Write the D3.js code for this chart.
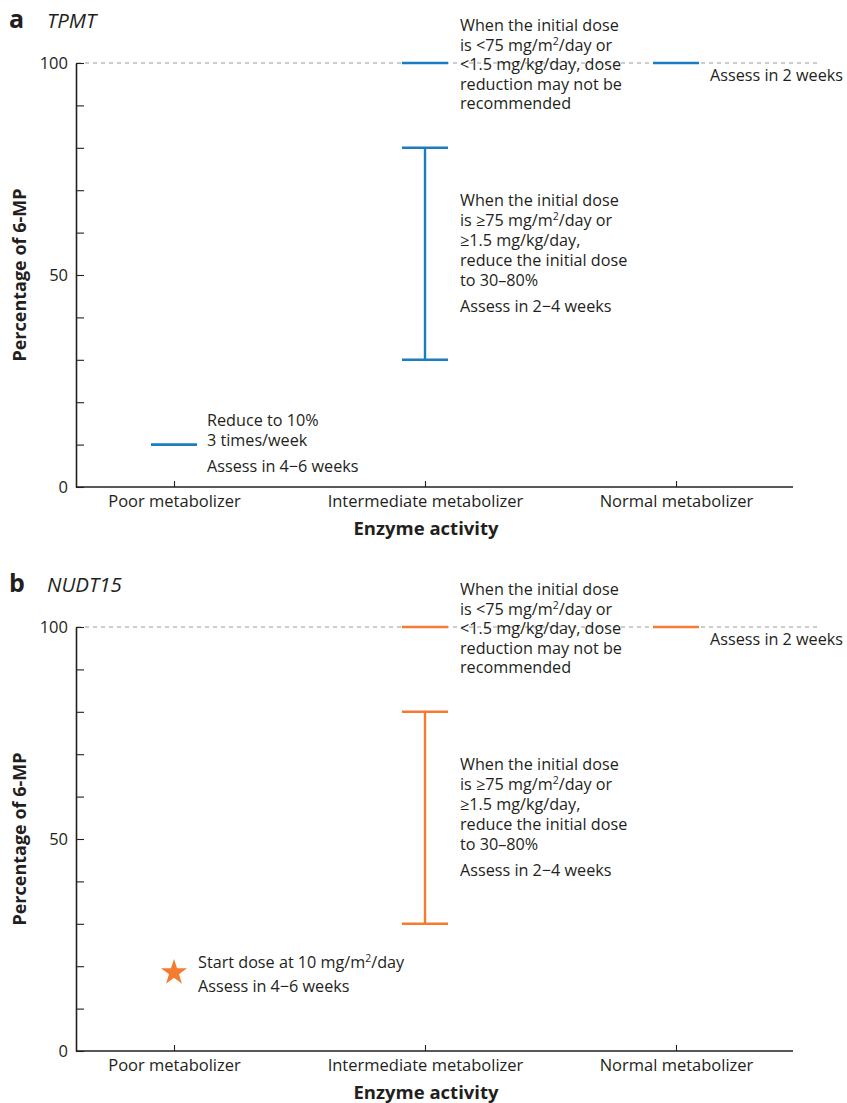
<!DOCTYPE html>
<html>
<head>
<meta charset="utf-8">
<script src="https://cdn.jsdelivr.net/npm/d3@7"></script>
<style>
  body { margin: 0; background: #fff; }
  svg text { font-family: "Open Sans", "Noto Sans", sans-serif; fill: #231f20; }
</style>
</head>
<body>
<div id="chart-area"></div>
<script>
// Data
const categories = ["Poor metabolizer", "Intermediate metabolizer", "Normal metabolizer"];
const yTickValues = [0, 10, 20, 30, 40, 50, 60, 70, 80, 90, 100];
const yTickLabels = [0, 50, 100];

// TPMT: single dose levels + a dose range
const tpmtLevels = [
    { cat: "Poor metabolizer", value: 10 },
    { cat: "Intermediate metabolizer", value: 100 },
    { cat: "Normal metabolizer", value: 100 }
];
const tpmtRanges = [{ cat: "Intermediate metabolizer", low: 30, high: 80 }];
const tpmtStars = [];

// NUDT15
const nudt15Levels = [
    { cat: "Intermediate metabolizer", value: 100 },
    { cat: "Normal metabolizer", value: 100 }
];
const nudt15Ranges = [{ cat: "Intermediate metabolizer", low: 30, high: 80 }];
const nudt15Stars = [{ cat: "Poor metabolizer", value: 18.5 }];

// Annotation texts ("^2" = superscript 2)
const noteLow = ["When the initial dose", "is <75 mg/m^2/day or", "<1.5 mg/kg/day, dose", "reduction may not be", "recommended"];
const noteNormal = ["Assess in 2 weeks"];
const noteHigh = ["When the initial dose", "is \u226575 mg/m^2/day or", "\u22651.5 mg/kg/day,", "reduce the initial dose", "to 30\u201380%"];
const noteHighAssess = ["Assess in 2\u22124 weeks"];
const tpmtPoorNote = ["Reduce to 10%", "3 times/week"];
const tpmtPoorAssess = ["Assess in 4\u22126 weeks"];
const nudt15PoorNote = ["Start dose at 10 mg/m^2/day", "Assess in 4\u22126 weeks"];

const panels = [
    { letter: "a", gene: "TPMT", color: "#1a7dc1", levels: tpmtLevels, ranges: tpmtRanges, stars: tpmtStars,
      poorNote: tpmtPoorNote, poorAssess: tpmtPoorAssess },
    { letter: "b", gene: "NUDT15", color: "#f47b2f", levels: nudt15Levels, ranges: nudt15Ranges, stars: nudt15Stars,
      poorNote: nudt15PoorNote, poorAssess: [] }
];

/* SVG */
const W = 847, H = 1103;
const margin = { left: 76, right: 54, top: 63 };
const width = W - margin.left - margin.right;   // 717
const height = 424;
const panelStep = 564;

const svg = d3.select("#chart-area")
    .append("svg")
    .attr("width", W)
    .attr("height", H);

const x = d3.scalePoint()
    .domain(categories)
    .range([98, 600]);

const y = d3.scaleLinear()
    .domain([0, 100])
    .range([height, 0]);

const FS = 16.2;

// one text block, one row per line; rows from `gapAt` on get pushed down by `gap`
function writeLines(g, lines, x0, y0, step, gapAt = -1, gap = 0) {
    const t = g.append("text")
        .attr("x", x0)
        .attr("y", y0)
        .style("font-size", FS + "px");
    lines.forEach((line, i) => {
        const row = t.append("tspan")
            .attr("x", x0)
            .attr("y", y0 + i * step + (gapAt >= 0 && i >= gapAt ? gap : 0));
        const parts = line.split("^2");
        parts.forEach((p, j) => {
            row.append("tspan").text(p);
            if (j < parts.length - 1) {
                row.append("tspan").text("2")
                    .attr("baseline-shift", "6")
                    .style("font-size", "10.5px");
            }
        });
    });
}

panels.forEach((p, pi) => {
    const pg = svg.append("g").attr("transform", `translate(0, ${pi * panelStep})`);

    /* Title */
    pg.append("text")
        .attr("x", 9).attr("y", 28)
        .style("font-size", "25px").style("font-weight", "bold")
        .text(p.letter);
    pg.append("text")
        .attr("x", 47).attr("y", 28)
        .style("font-size", "20.5px").style("font-style", "italic")
        .text(p.gene);

    const g = pg.append("g")
        .attr("transform", `translate(${margin.left}, ${margin.top})`);

    /* Dashed 100% line */
    g.append("line")
        .attr("x1", 1).attr("x2", 742)
        .attr("y1", y(100)).attr("y2", y(100))
        .attr("stroke", "#9a9a9a")
        .attr("stroke-width", 1)
        .attr("stroke-dasharray", "4,4");

    /* Y axis */
    const yAxis = g.append("g")
        .call(d3.axisLeft(y)
            .tickValues(yTickValues)
            .tickSize(-8)
            .tickSizeOuter(0)
            .tickPadding(8)
            .tickFormat(d => yTickLabels.includes(d) ? d : ""));
    yAxis.selectAll("line").attr("stroke", "#231f20").attr("stroke-width", 1.1);
    yAxis.select(".domain").attr("stroke", "#231f20").attr("stroke-width", 1.6);
    yAxis.selectAll("text")
        .style("font-family", '"Open Sans", sans-serif')
        .style("font-size", "16.5px")
        .attr("fill", "#231f20");

    /* X axis */
    const xAxis = g.append("g")
        .attr("transform", `translate(0, ${height})`)
        .call(d3.axisBottom(x).tickSize(-6).tickSizeOuter(0).tickPadding(8));
    xAxis.select(".domain").remove();
    xAxis.append("line")
        .attr("x1", 0).attr("x2", width)
        .attr("stroke", "#231f20").attr("stroke-width", 1.6);
    xAxis.selectAll(".tick line").attr("stroke", "#231f20").attr("stroke-width", 1.1);
    xAxis.selectAll(".tick text")
        .style("font-family", '"Open Sans", sans-serif')
        .style("font-size", "16.5px")
        .attr("fill", "#231f20");

    g.append("text")
        .attr("x", 350).attr("y", height + 48)
        .attr("text-anchor", "middle")
        .style("font-size", "18.5px").style("font-weight", "bold")
        .text("Enzyme activity");

    g.append("text")
        .attr("transform", `translate(-50, ${height / 2}) rotate(-90)`)
        .attr("text-anchor", "middle")
        .style("font-size", "18px").style("font-weight", "bold")
        .text("Percentage of 6-MP");

    /* Level marks */
    const half = 23;
    g.selectAll(".level")
        .data(p.levels)
        .join("line")
        .attr("class", "level")
        .attr("x1", d => x(d.cat) - half)
        .attr("x2", d => x(d.cat) + half)
        .attr("y1", d => y(d.value))
        .attr("y2", d => y(d.value))
        .attr("stroke", p.color)
        .attr("stroke-width", 2.6);

    /* Range (error bar) */
    p.ranges.forEach(r => {
        const cx = x(r.cat);
        g.append("line")
            .attr("x1", cx).attr("x2", cx)
            .attr("y1", y(r.high)).attr("y2", y(r.low))
            .attr("stroke", p.color).attr("stroke-width", 2.4);
        [r.low, r.high].forEach(v => {
            g.append("line")
                .attr("x1", cx - half).attr("x2", cx + half)
                .attr("y1", y(v)).attr("y2", y(v))
                .attr("stroke", p.color).attr("stroke-width", 2.6);
        });
        writeLines(g, noteHigh.concat(noteHighAssess), cx + 35, y(r.high) + 58, 20, noteHigh.length, 6);
    });

    /* Stars */
    g.selectAll(".star")
        .data(p.stars)
        .join("path")
        .attr("class", "star")
        .attr("d", d3.symbol(d3.symbolStar).size(210))
        .attr("transform", d => `translate(${x(d.cat)}, ${y(d.value)})`)
        .attr("fill", p.color);

    /* Notes */
    const xi = x("Intermediate metabolizer");
    const xn = x("Normal metabolizer");
    const xp = x("Poor metabolizer");
    writeLines(g, noteLow, xi + 35, y(100) - 32, 19.6);
    writeLines(g, noteNormal, xn + 34, y(100) + 18, 20);

    if (p.stars.length) {
        writeLines(g, p.poorNote, xp + 24, y(p.stars[0].value) - 5, 24);
    } else {
        const lv = p.levels.find(d => d.cat === "Poor metabolizer");
        writeLines(g, p.poorNote.concat(p.poorAssess), xp + 33, y(lv.value) - 19, 20, p.poorNote.length, 6);
    }
});
</script>
</body>
</html>
